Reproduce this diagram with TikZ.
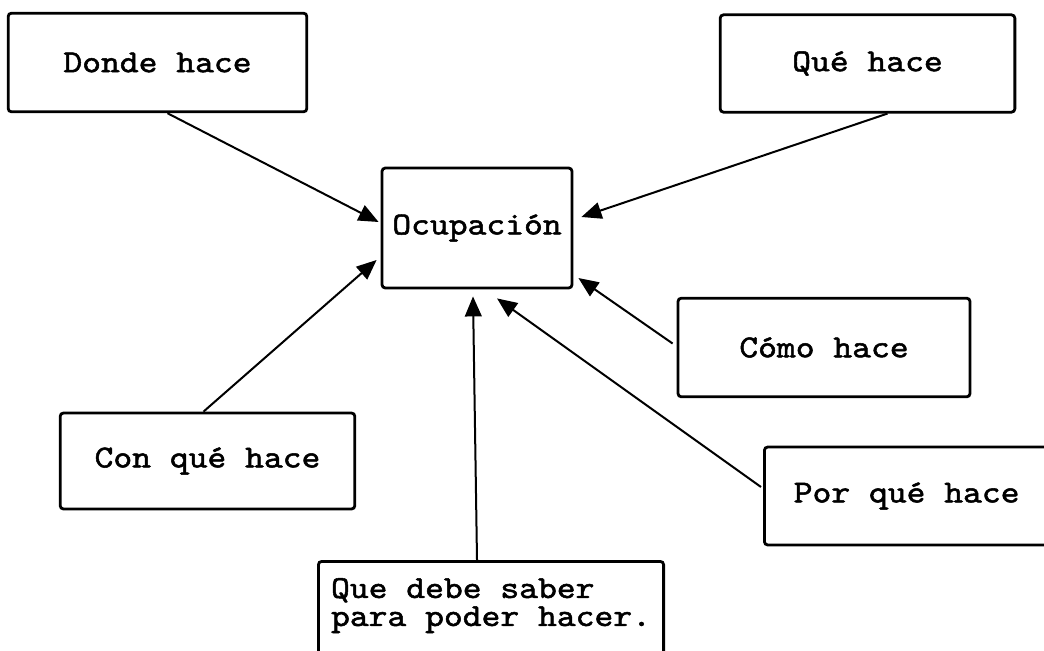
\documentclass[tikz,border=0pt]{standalone}
\usepackage{fontspec}
\newfontfamily\maquina{lmmono10-regular.otf}[FakeStretch=1.12, FakeBold=1.6]
\usetikzlibrary{arrows.meta,calc}

\tikzset{every picture/.style={line width=0.75pt}}
\tikzset{
  caja/.style={draw, rounded corners=2.5pt, line width=2.1pt, inner sep=0pt,
    font=\maquina\fontsize{24}{21}\selectfont},
  flecha/.style={line width=1.5pt, -{Triangle[length=15pt,width=12.5pt]}}
}

\begin{document}
\begin{tikzpicture}[x=0.75pt,y=0.75pt,yscale=-1,xscale=1]
\clip (0,0) rectangle (1044,650);
\fill[white] (0,0) rectangle (1044,650);

% Ocupacion (centro)
\node [caja, minimum width=142.5pt, minimum height=90pt] (ocup) at (477,228) {Ocupación};
% Cajas alrededor
\node [caja, minimum width=224pt, minimum height=74pt] (donde) at (157.5,62.5) {Donde hace};
\node [caja, minimum width=221pt, minimum height=73pt] (que) at (867.5,63.5) {Qué hace};
\node [caja, minimum width=219pt, minimum height=74pt] (como) at (824,347.5) {Cómo hace};
\node [caja, minimum width=221pt, minimum height=72pt] (conque) at (207.5,461) {Con qué hace};
\node [caja, anchor=west, minimum height=73.5pt, inner xsep=22pt] (porque) at (763,496) {\makebox[186pt][l]{Por qué hace}};
\node [caja, anchor=north west, inner xsep=9.5pt, inner ysep=12.5pt] (saber) at (317,560)
  {\begin{tabular}{@{}l@{}}Que debe saber\\para poder hacer.\\\mbox{}\end{tabular}};

% Flechas
\draw [flecha] ($(donde.south)+(10,0)$) -- ($(ocup.west)+(-2,-6)$);
\draw [flecha] ($(que.south)+(20,0)$) -- ($(ocup.east)+(8,-11)$);
\draw [flecha] ($(conque.north)+(-4,0)$) -- ($(ocup.west)+(-4,32)$);
\draw [flecha] ($(saber.north)+(-14,0)$) -- ($(ocup.south)+(-4,7)$);
\draw [flecha] ($(porque.west)+(-2,-9)$) -- ($(ocup.south)+(20,9)$);
\draw [flecha] ($(como.west)+(-4,-4)$) -- ($(ocup.east)+(5,50)$);

\end{tikzpicture}
\end{document}
